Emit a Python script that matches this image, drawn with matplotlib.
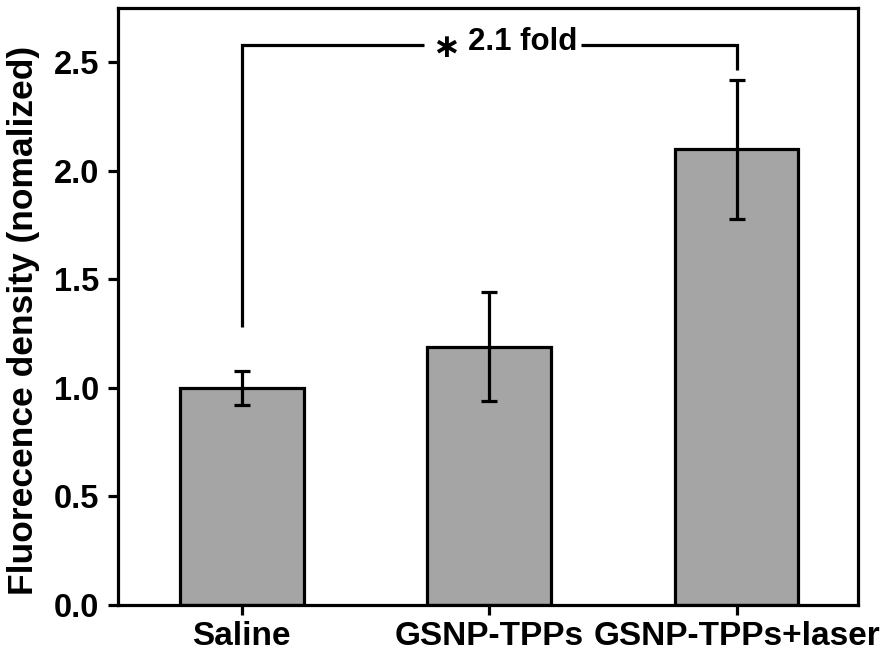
import matplotlib
matplotlib.use("Agg")
import matplotlib.pyplot as plt
import numpy as np

# Data
groups = ["Saline", "GSNP-TPPs", "GSNP-TPPs+laser"]
means = [1.00, 1.19, 2.10]
errors = [0.08, 0.25, 0.32]
yticks = [0.0, 0.5, 1.0, 1.5, 2.0, 2.5]
fold_label = "2.1 fold"

plt.rcParams["font.family"] = ["Liberation Sans", "DejaVu Sans"]
plt.rcParams["font.weight"] = "bold"

fig = plt.figure(figsize=(8.88, 6.63), dpi=100)
ax = fig.add_axes([0.133, 0.0875, 0.833, 0.9005])

x = np.arange(len(groups))
ax.bar(x, means, width=0.5, color="#a5a5a5", edgecolor="black", linewidth=2.3, zorder=2)
ax.errorbar(x, means, yerr=errors, fmt="none", ecolor="black", elinewidth=2.3,
            capsize=5.8, capthick=2.3, zorder=3)

ax.set_xlim(-0.5, 2.49)
ax.set_ylim(0, 2.75)
ax.set_xticks(x)
ax.set_xticklabels(groups, fontsize=24, fontweight="bold")
ax.set_yticks(yticks)
ax.set_yticklabels([f"{v:.1f}" for v in yticks], fontsize=23.5, fontweight="bold")
ax.tick_params(axis="both", direction="out", width=2.3, length=7.5, color="black")
ax.tick_params(axis="y", pad=6)
ax.tick_params(axis="x", pad=4)
ax.set_ylabel("Fluorecence density (nomalized)", fontsize=25.5, fontweight="bold")
ax.yaxis.set_label_coords(-0.106, 0.477)
for s in ax.spines.values():
    s.set_linewidth(2.3)

# Significance bracket between Saline and GSNP-TPPs+laser
y_br = 2.58
left_bottom = means[0] + errors[0] + 0.20
right_bottom = means[2] + errors[2] + 0.045
t = ax.text(1.137, y_br + 0.015, fold_label, fontsize=22.5, fontweight="bold",
            ha="center", va="center", zorder=4)
fig.canvas.draw()
inv = ax.transData.inverted()
tb = t.get_window_extent()
star_x = inv.transform((tb.x0 - 22, 0))[0]
star = ax.text(star_x, y_br - 0.012, "\u2217", fontsize=24, fontweight="bold",
               family="DejaVu Sans", ha="center", va="center", zorder=4)
fig.canvas.draw()
sb = star.get_window_extent()
x_left_end = inv.transform((sb.x0 - 8, 0))[0]
x_right_start = inv.transform((tb.x1 + 3, 0))[0]
ax.plot([x[0], x[0], x_left_end], [left_bottom, y_br, y_br], color="black", lw=2.3,
        solid_capstyle="butt", solid_joinstyle="miter", zorder=4)
ax.plot([x_right_start, x[2], x[2]], [y_br, y_br, right_bottom], color="black", lw=2.3,
        solid_capstyle="butt", solid_joinstyle="miter", zorder=4)

fig.savefig("out.png", dpi=100)
